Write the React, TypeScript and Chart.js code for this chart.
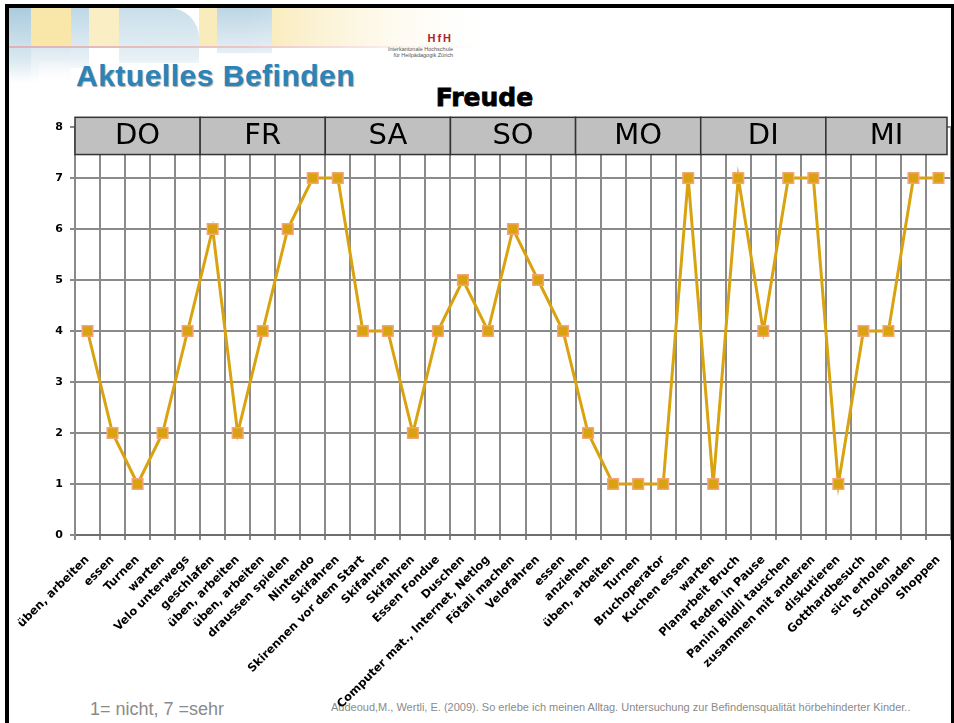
import React, { useEffect, useRef } from 'react';
import { Chart, registerables } from 'chart.js';

Chart.register(...registerables);

const activities = [
  'üben, arbeiten', 'essen', 'Turnen', 'warten', 'Velo unterwegs',
  'geschlafen', 'üben, arbeiten', 'üben, arbeiten', 'draussen spielen', 'Nintendo',
  'Skifahren', 'Skirennen vor dem Start', 'Skifahren', 'Skifahren', 'Essen Fondue',
  'Duschen', 'Computer mat., Internet, Netlog', 'Fötali machen', 'Velofahren', 'essen',
  'anziehen', 'üben, arbeiten', 'Turnen', 'Bruchoperator', 'Kuchen essen',
  'warten', 'Planarbeit Bruch', 'Reden in Pause', 'Panini Bildli tauschen', 'zusammen mit anderen',
  'diskutieren', 'Gotthardbesuch', 'sich erholen', 'Schokoladen', 'Shoppen',
];

const freude = [
  4, 2, 1, 2, 4,
  6, 2, 4, 6, 7,
  7, 4, 4, 2, 4,
  5, 4, 6, 5, 4,
  2, 1, 1, 1, 7,
  1, 7, 4, 7, 7,
  1, 4, 4, 7, 7,
];

const days = ['DO', 'FR', 'SA', 'SO', 'MO', 'DI', 'MI'];
const activitiesPerDay = 5;
const yMin = 0;
const yMax = 8;

const W = 954;
const H = 723;

const dayBoxes = {
  id: 'dayBoxes',
  beforeDatasetsDraw(chart: any) {
    const { ctx, scales } = chart;
    const x = scales.x;
    const y = scales.y;
    const half = (x.getPixelForValue(1) - x.getPixelForValue(0)) / 2;
    const top = y.getPixelForValue(8.19);
    const bottom = y.getPixelForValue(7.46);
    ctx.save();
    days.forEach((d, i) => {
      const left = x.getPixelForValue(i * activitiesPerDay) - half;
      const right = x.getPixelForValue(i * activitiesPerDay + activitiesPerDay - 1) + half - (i === days.length - 1 ? 4 : 0);
      ctx.fillStyle = '#c0c0c0';
      ctx.fillRect(left, top, right - left, bottom - top);
      ctx.strokeStyle = '#333333';
      ctx.lineWidth = 1.5;
      ctx.strokeRect(left, top, right - left, bottom - top);
      ctx.fillStyle = '#000000';
      ctx.font = '29px "DejaVu Sans"';
      ctx.textAlign = 'center';
      ctx.textBaseline = 'middle';
      ctx.fillText(d, (left + right) / 2, (top + bottom) / 2 + 1);
    });
    ctx.restore();
  },
};

function Banner() {
  const box = (s: React.CSSProperties) => <div style={{ position: 'absolute', ...s }} />;
  return (
    <div style={{ position: 'absolute', left: 9, top: 8, width: 480, height: 75, overflow: 'hidden' }}>
      {box({ left: 0, top: 0, width: 22, height: 75, background: 'linear-gradient(180deg,#8fbad2,#cfe2ec 70%,#ffffff)' })}
      {box({ left: 22, top: 0, width: 40, height: 40, background: '#f6df8c' })}
      {box({ left: 22, top: 40, width: 40, height: 35, background: 'linear-gradient(180deg,#cfe0ea,#ffffff)' })}
      {box({ left: 62, top: 0, width: 18, height: 60, background: 'linear-gradient(180deg,#a9cbe0,#e6f0f5)' })}
      {box({ left: 80, top: 0, width: 30, height: 40, background: '#f8e9b0' })}
      {box({ left: 110, top: 0, width: 80, height: 55, background: 'linear-gradient(180deg,#b7d3e3,#e4eef4)', borderTopRightRadius: 30 })}
      {box({ left: 190, top: 0, width: 18, height: 40, background: '#f7e6a6' })}
      {box({ left: 208, top: 0, width: 55, height: 45, background: 'linear-gradient(180deg,#a6c8dc,#dfeaf1)' })}
      {box({ left: 263, top: 0, width: 217, height: 40, background: 'linear-gradient(90deg,#f7e4a0,#fbf0cc 50%,#ffffff)' })}
      {box({ left: 0, top: 38, width: 480, height: 2, background: 'linear-gradient(90deg,#d69a9a,#e8c0c0 70%,rgba(255,255,255,0))' })}
      {box({ left: 0, top: 0, width: 480, height: 75, background: 'linear-gradient(90deg,rgba(255,255,255,0.25) 0%,rgba(255,255,255,0.25) 50%,rgba(255,255,255,0.9) 100%)' })}
      {box({ left: 30, top: 50, width: 450, height: 25, background: 'linear-gradient(180deg,rgba(255,255,255,0),rgba(255,255,255,1))' })}
    </div>
  );
}

export default function App() {
  const canvasRef = useRef<HTMLCanvasElement | null>(null);

  useEffect(() => {
    if (!canvasRef.current) return;
    const chart = new Chart(canvasRef.current, {
      type: 'line',
      data: {
        labels: activities,
        datasets: [
          {
            label: 'Freude',
            data: freude,
            borderColor: '#d9a20f',
            backgroundColor: '#d9a20f',
            borderWidth: 3,
            pointStyle: 'rect',
            pointRadius: 7.5,
            pointHoverRadius: 7.5,
            pointBackgroundColor: '#d9a20f',
            pointBorderColor: '#f5a479',
            pointBorderWidth: 1.5,
            tension: 0,
            clip: false,
          },
        ],
      },
      options: {
        responsive: false,
        animation: false,
        devicePixelRatio: 1,
        layout: { autoPadding: false, padding: { left: 0, top: 127, right: 3, bottom: 0 } },
        plugins: {
          legend: { display: false },
          title: { display: false },
          tooltip: { enabled: false },
        },
        scales: {
          x: {
            type: 'category',
            offset: true,
            afterFit(scale: any) {
              scale.height = H - 535;
              scale.paddingRight = 0;
              scale.paddingLeft = 0;
            },
            grid: {
              offset: true,
              color: '#8a8a8a',
              lineWidth: 2,
              tickLength: 5,
            },
            border: { color: '#6e6e6e', width: 2 },
            ticks: {
              autoSkip: false,
              maxRotation: 45,
              minRotation: 45,
              padding: 13,
              color: '#000000',
              font: { family: '"DejaVu Sans"', size: 11.5, weight: 'bold' },
            },
          },
          y: {
            min: yMin,
            max: yMax,
            afterFit(scale: any) {
              scale.width = 75;
            },
            grid: { color: '#8a8a8a', lineWidth: 2, tickLength: 5 },
            border: { color: '#8a8a8a', width: 2 },
            ticks: {
              stepSize: 1,
              padding: 7,
              color: '#000000',
              font: { family: '"DejaVu Sans"', size: 11, weight: 'bold' },
            },
          },
        },
      },
      plugins: [dayBoxes],
    });
    return () => chart.destroy();
  }, []);

  return (
    <div style={{ position: 'fixed', left: 0, top: 0, width: W, height: H, background: '#ffffff', overflow: 'hidden' }}>
      <Banner />
      <div style={{ position: 'absolute', left: 9, top: 4, width: 942, height: 4, background: '#000' }} />
      <div style={{ position: 'absolute', left: 5, top: 4, width: 4, height: H, background: '#000' }} />
      <div style={{ position: 'absolute', left: 300, top: 33, width: 153, textAlign: 'right', fontFamily: '"Liberation Sans", Arial, sans-serif', fontWeight: 'bold', fontSize: 11, color: '#a8282a', letterSpacing: 2, lineHeight: 1 }}>HfH</div>
      <div style={{ position: 'absolute', left: 300, top: 46, width: 153, textAlign: 'right', fontFamily: '"Liberation Sans", Arial, sans-serif', fontSize: 5.5, color: '#555', lineHeight: '6px' }}>
        Interkantonale Hochschule<br />für Heilpädagogik Zürich
      </div>
      <div style={{ position: 'absolute', left: 76, top: 60.6, fontFamily: '"Liberation Sans", Arial, sans-serif', fontWeight: 'bold', fontSize: 30, lineHeight: 1, color: '#2b83b8', letterSpacing: 0.5, textShadow: '1px 1px 1px rgba(0,0,0,0.35)', whiteSpace: 'nowrap' }}>Aktuelles Befinden</div>
      <div style={{ position: 'absolute', left: 384.5, top: 85, width: 200, textAlign: 'center', fontFamily: '"DejaVu Sans", sans-serif', fontWeight: 'bold', fontSize: 25, lineHeight: 1, color: '#000', WebkitTextStroke: '0.8px #000' }}>Freude</div>
      <div style={{ position: 'absolute', left: 90, top: 699.8, fontFamily: '"Liberation Sans", Arial, sans-serif', fontSize: 18, lineHeight: 1, color: '#8a8a8a', whiteSpace: 'nowrap' }}>1= nicht, 7 =sehr</div>
      <div style={{ position: 'absolute', left: 331, top: 702, fontFamily: '"Liberation Sans", Arial, sans-serif', fontSize: 11, lineHeight: 1, color: '#8a8a8a', whiteSpace: 'nowrap' }}>Audeoud,M., Wertli, E. (2009). So erlebe ich meinen Alltag. Untersuchung zur Befindensqualität hörbehinderter Kinder..</div>
      <canvas ref={canvasRef} width={W} height={H} style={{ position: 'absolute', left: 0, top: 0, width: W, height: H }} />
      <div style={{ position: 'absolute', left: 951, top: 4, width: 3, height: H, background: '#000' }} />
    </div>
  );
}
